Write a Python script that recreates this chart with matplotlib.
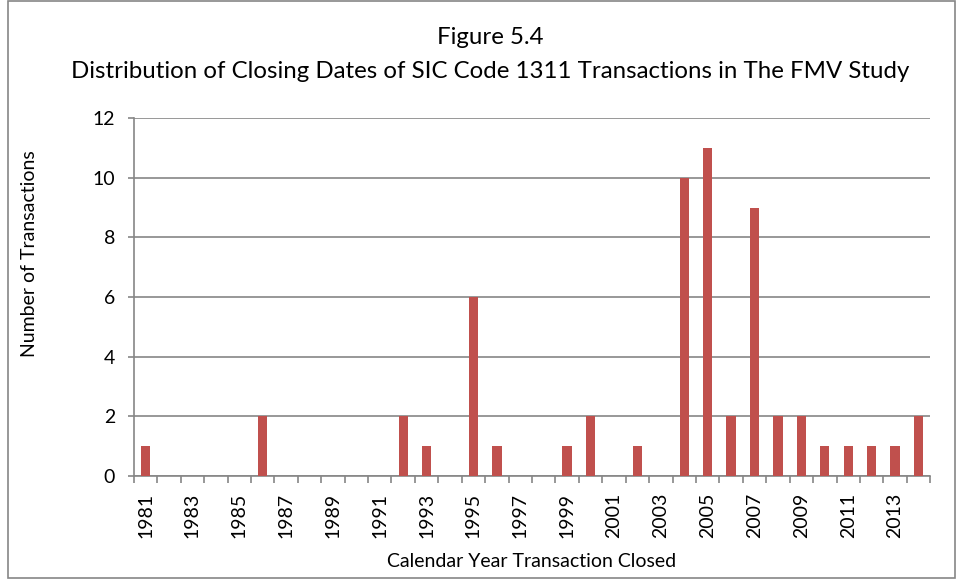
import matplotlib
matplotlib.use("Agg")
import matplotlib.pyplot as plt
from matplotlib.patches import Rectangle
import numpy as np

plt.rcParams['font.family'] = ['Lato', 'DejaVu Sans']

years = list(range(1981, 2015))
counts = [1, 0, 0, 0, 0, 2, 0, 0, 0, 0, 0, 2, 1, 0, 6, 1, 0, 0, 1, 2,
          0, 1, 0, 10, 11, 2, 9, 2, 2, 1, 1, 1, 1, 2]
yticks = [0, 2, 4, 6, 8, 10, 12]

fig = plt.figure(figsize=(9.56, 5.79), dpi=100)
ax = fig.add_axes([0.140, 0.178, 0.833, 0.618])

x = np.arange(len(years))
ax.bar(x, counts, width=0.4, color='#C0504D', zorder=3)

ax.set_xlim(-0.5, len(years) - 0.5)
ax.set_ylim(0, 12)
ax.set_yticks(yticks)
ax.set_yticklabels([str(v) for v in yticks], fontsize=14)
ax.yaxis.grid(True, color='#868686', linewidth=1.2, zorder=0)
ax.tick_params(axis='y', length=4.5, width=1.2, color='#868686', pad=9)

ax.set_xticks(x[::2])
ax.set_xticklabels([str(y) for y in years[::2]], rotation=90, fontsize=14)
ax.set_xticks(np.arange(-0.5, len(years) + 0.5, 1), minor=True)
ax.tick_params(axis='x', which='major', length=0, pad=12)
ax.tick_params(axis='x', which='minor', length=5, width=1.2, color='#868686')

for s in ['top', 'right']:
    ax.spines[s].set_visible(False)
for s in ['left', 'bottom']:
    ax.spines[s].set_color('#868686')
    ax.spines[s].set_linewidth(1.2)

ax.set_ylabel('Number of Transactions', fontsize=14)
ax.yaxis.set_label_coords(-0.1206, 0.62)
ax.set_xlabel('Calendar Year Transaction Closed', fontsize=14, labelpad=11)

fig.text(0.5126, 1 - 38/579, 'Figure 5.4', ha='center', va='center', fontsize=17.3)
fig.text(0.5126, 1 - 71/579,
         'Distribution of Closing Dates of SIC Code 1311 Transactions in The FMV Study',
         ha='center', va='center', fontsize=17.3)

fig.patches.append(Rectangle((8/956, 0.002), 1 - 9/956, 0.996, transform=fig.transFigure,
                             fill=False, edgecolor='#868686', linewidth=1.2))

fig.savefig('out.png', dpi=100)
